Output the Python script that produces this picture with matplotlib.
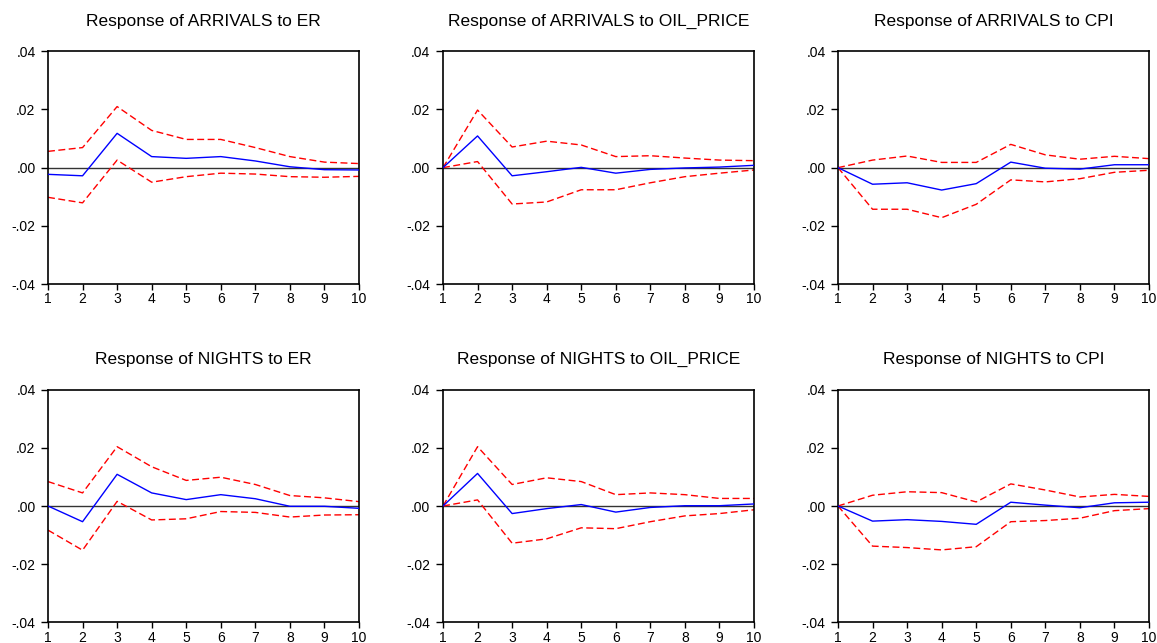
import matplotlib
matplotlib.use("Agg")
import matplotlib.pyplot as plt
from matplotlib.ticker import FuncFormatter

plt.rcParams['font.family'] = ['Liberation Sans', 'DejaVu Sans']

periods = list(range(1, 11))

titles = [
    "Response of ARRIVALS to ER",
    "Response of ARRIVALS to OIL_PRICE",
    "Response of ARRIVALS to CPI",
    "Response of NIGHTS to ER",
    "Response of NIGHTS to OIL_PRICE",
    "Response of NIGHTS to CPI",
]

# ARRIVALS to ER
arr_er = [-0.0023, -0.0028, 0.0118, 0.0038, 0.0032, 0.0038, 0.0023, 0.0003, -0.0007, -0.0008]
arr_er_up = [0.0056, 0.0069, 0.0210, 0.0128, 0.0097, 0.0097, 0.0069, 0.0038, 0.0019, 0.0014]
arr_er_lo = [-0.0102, -0.0121, 0.0026, -0.0050, -0.0031, -0.0019, -0.0022, -0.0031, -0.0033, -0.0030]

# ARRIVALS to OIL_PRICE
arr_oil = [0.0, 0.0109, -0.0028, -0.0014, 0.0001, -0.0019, -0.0006, -0.0001, 0.0002, 0.0008]
arr_oil_up = [0.0, 0.0198, 0.0071, 0.0091, 0.0078, 0.0038, 0.0041, 0.0033, 0.0026, 0.0024]
arr_oil_lo = [0.0, 0.0021, -0.0125, -0.0118, -0.0076, -0.0076, -0.0052, -0.0031, -0.0019, -0.0008]

# ARRIVALS to CPI
arr_cpi = [0.0, -0.0057, -0.0052, -0.0077, -0.0055, 0.0019, -0.0002, -0.0005, 0.0010, 0.0010]
arr_cpi_up = [0.0, 0.0026, 0.0040, 0.0018, 0.0018, 0.0080, 0.0044, 0.0029, 0.0039, 0.0031]
arr_cpi_lo = [0.0, -0.0143, -0.0143, -0.0172, -0.0126, -0.0042, -0.0049, -0.0038, -0.0016, -0.0009]

# NIGHTS to ER
ngt_er = [0.0, -0.0054, 0.0109, 0.0045, 0.0022, 0.0039, 0.0025, -0.0001, -0.0001, -0.0008]
ngt_er_up = [0.0084, 0.0045, 0.0204, 0.0135, 0.0088, 0.0099, 0.0074, 0.0036, 0.0028, 0.0015]
ngt_er_lo = [-0.0083, -0.0152, 0.0016, -0.0048, -0.0044, -0.0019, -0.0022, -0.0038, -0.0031, -0.0030]

# NIGHTS to OIL_PRICE
ngt_oil = [0.0, 0.0112, -0.0026, -0.0009, 0.0005, -0.0021, -0.0005, 0.0001, 0.0001, 0.0007]
ngt_oil_up = [0.0, 0.0204, 0.0074, 0.0097, 0.0084, 0.0039, 0.0045, 0.0039, 0.0026, 0.0026]
ngt_oil_lo = [0.0, 0.0021, -0.0128, -0.0113, -0.0075, -0.0078, -0.0054, -0.0034, -0.0026, -0.0013]

# NIGHTS to CPI
ngt_cpi = [0.0, -0.0052, -0.0047, -0.0053, -0.0063, 0.0013, 0.0003, -0.0006, 0.0011, 0.0013]
ngt_cpi_up = [0.0, 0.0037, 0.0049, 0.0046, 0.0014, 0.0076, 0.0055, 0.0031, 0.0040, 0.0033]
ngt_cpi_lo = [0.0, -0.0138, -0.0143, -0.0151, -0.0140, -0.0054, -0.0050, -0.0042, -0.0016, -0.0009]

responses = [arr_er, arr_oil, arr_cpi, ngt_er, ngt_oil, ngt_cpi]
uppers = [arr_er_up, arr_oil_up, arr_cpi_up, ngt_er_up, ngt_oil_up, ngt_cpi_up]
lowers = [arr_er_lo, arr_oil_lo, arr_cpi_lo, ngt_er_lo, ngt_oil_lo, ngt_cpi_lo]

yticks = [-0.04, -0.02, 0.0, 0.02, 0.04]


def fmt(v, pos):
    s = "%.2f" % v
    if s.startswith("-0"):
        s = "-" + s[2:]
    elif s.startswith("0"):
        s = s[1:]
    if s == "-.00":
        s = ".00"
    return s


W, H = 1157, 643
fig = plt.figure(figsize=(W / 100, H / 100), dpi=100)

lefts = [48, 443, 838]
width = 311
rows = [(51.3, 284), (389.7, 622.3)]

for i in range(6):
    r, c = divmod(i, 3)
    top, bot = rows[r]
    ax = fig.add_axes([lefts[c] / W, 1 - bot / H, width / W, (bot - top) / H])
    ax.axhline(0, color='#333333', lw=1.0, zorder=1)
    ax.plot(periods, uppers[i], color='#ff0000', lw=1.0, ls=(0, (5, 2.5)), zorder=2)
    ax.plot(periods, lowers[i], color='#ff0000', lw=1.0, ls=(0, (5, 2.5)), zorder=2)
    ax.plot(periods, responses[i], color='#0000ff', lw=1.0, zorder=3)
    ax.set_xlim(1, 10)
    ax.set_ylim(-0.04, 0.04)
    ax.set_xticks(periods)
    ax.set_yticks(yticks)
    ax.yaxis.set_major_formatter(FuncFormatter(fmt))
    ax.tick_params(axis='y', direction='out', length=5, width=1, labelsize=10, pad=4,
                   colors='black')
    ax.tick_params(axis='x', direction='out', length=4, width=1, labelsize=10, pad=2,
                   colors='black')
    ax.tick_params(top=False, right=False)
    for sp in ax.spines.values():
        sp.set_linewidth(1.2)
        sp.set_color('black')
    ax.set_title(titles[i], fontsize=12.5, pad=18.5)

fig.savefig("out.png", dpi=100)
